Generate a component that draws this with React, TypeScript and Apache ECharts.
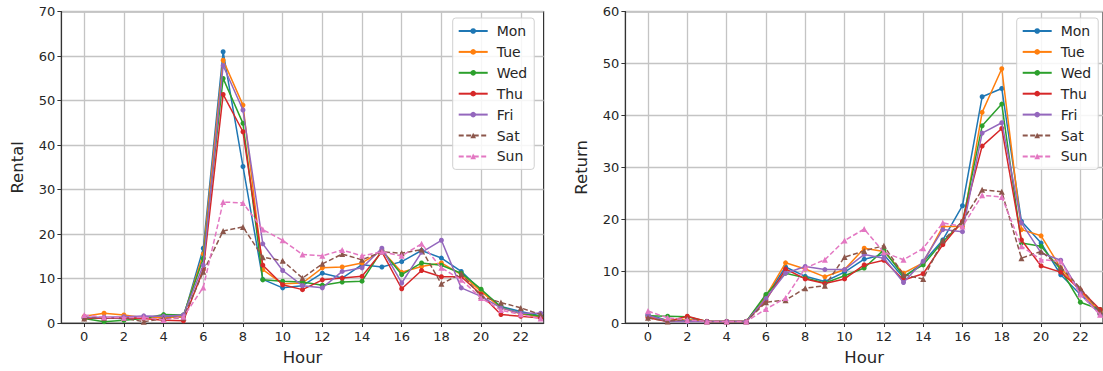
import React, { useEffect, useRef } from "react";
import * as echarts from "echarts";

const hours = [0,1,2,3,4,5,6,7,8,9,10,11,12,13,14,15,16,17,18,19,20,21,22,23];
const days = ["Mon", "Tue", "Wed", "Thu", "Fri", "Sat", "Sun"];
const colors = ["#1f77b4", "#ff7f0e", "#2ca02c", "#d62728", "#9467bd", "#8c564b", "#e377c2"];
const xTicks = [0, 2, 4, 6, 8, 10, 12, 14, 16, 18, 20, 22];

// Rental (left panel)
const rentMon = [1.2, 1.1, 1.0, 1.2, 1.6, 1.3, 16.8, 61.0, 35.2, 9.8, 7.9, 8.4, 11.2, 10.1, 13.1, 12.6, 13.8, 16.3, 14.6, 11.6, 7.3, 3.7, 2.6, 1.6];
const rentTue = [1.5, 2.2, 1.8, 1.2, 1.2, 1.4, 15.5, 59.1, 49.0, 12.0, 8.8, 9.0, 12.4, 12.6, 13.5, 16.3, 11.4, 12.7, 13.5, 10.9, 7.1, 3.4, 2.1, 1.35];
const rentWed = [1.0, 0.3, 0.6, 1.0, 1.9, 1.8, 14.5, 55.0, 44.9, 9.7, 9.4, 9.2, 8.5, 9.2, 9.4, 16.3, 10.9, 13.5, 13.0, 11.2, 7.6, 3.6, 2.2, 1.5];
const rentThu = [1.0, 1.1, 1.2, 1.0, 0.6, 0.5, 12.0, 51.4, 43.0, 13.0, 8.6, 7.5, 9.7, 10.1, 10.5, 16.0, 7.7, 11.8, 10.4, 10.4, 6.4, 1.9, 1.5, 1.1];
const rentFri = [1.3, 1.3, 1.4, 1.6, 1.5, 1.8, 13.0, 57.9, 47.9, 17.8, 11.8, 8.4, 7.9, 11.6, 12.4, 16.8, 9.0, 15.9, 18.6, 7.9, 6.0, 3.4, 2.2, 2.2];
const rentSat = [1.0, 1.2, 1.1, 0.3, 1.0, 1.2, 11.5, 20.7, 21.6, 14.8, 14.0, 10.1, 13.3, 15.5, 14.2, 16.0, 15.7, 16.5, 8.8, 11.1, 6.0, 4.6, 3.4, 1.9];
const rentSun = [1.8, 1.3, 1.2, 1.3, 0.7, 1.4, 8.0, 27.2, 27.0, 21.0, 18.6, 15.4, 15.1, 16.4, 15.1, 16.0, 15.1, 17.8, 12.4, 9.7, 5.6, 2.9, 1.9, 1.0];

// Return (right panel)
const retMon = [1.6, 0.5, 0.5, 0.3, 0.3, 0.3, 5.1, 10.8, 9.0, 8.0, 9.8, 12.3, 13.2, 8.7, 11.7, 16.0, 22.6, 43.6, 45.2, 19.6, 15.4, 9.3, 5.5, 1.9];
const retTue = [1.2, 0.5, 0.7, 0.3, 0.3, 0.3, 5.2, 11.6, 10.4, 8.9, 10.3, 14.4, 13.8, 9.6, 11.6, 18.6, 18.6, 40.6, 49.0, 18.0, 16.8, 10.6, 6.1, 2.1];
const retWed = [1.4, 1.3, 1.2, 0.3, 0.3, 0.3, 5.5, 9.6, 8.7, 7.7, 9.1, 10.6, 14.1, 9.0, 11.2, 15.7, 19.4, 38.0, 42.2, 15.4, 14.8, 10.3, 4.0, 2.6];
const retThu = [1.0, 0.3, 1.3, 0.3, 0.3, 0.3, 4.4, 10.4, 8.5, 7.6, 8.5, 11.2, 12.1, 8.3, 9.5, 15.1, 19.6, 34.1, 37.5, 16.0, 11.0, 9.8, 6.4, 2.6];
const retFri = [1.5, 0.3, 0.3, 0.3, 0.3, 0.3, 4.7, 9.6, 10.9, 10.3, 10.3, 13.2, 12.5, 7.8, 11.9, 18.0, 17.6, 36.6, 38.6, 19.3, 13.5, 12.1, 5.8, 1.6];
const retSat = [1.0, 0.3, 0.8, 0.3, 0.3, 0.3, 4.0, 4.4, 6.7, 7.2, 12.7, 13.9, 14.9, 9.3, 8.5, 15.9, 19.6, 25.7, 25.3, 12.5, 13.8, 10.8, 6.7, 2.2];
const retSun = [2.3, 1.0, 0.6, 0.3, 0.3, 0.3, 2.7, 4.8, 10.6, 12.2, 15.9, 18.1, 13.6, 12.2, 14.4, 19.3, 18.6, 24.6, 24.3, 14.8, 12.2, 11.9, 5.5, 1.6];

const rentSeries = [rentMon, rentTue, rentWed, rentThu, rentFri, rentSat, rentSun];
const retSeries = [retMon, retTue, retWed, retThu, retFri, retSat, retSun];

const FONT = "DejaVu Sans";
const TEXT = "#262626";

function makeSeries(values: number[][], axisIndex: number) {
  return values.map((vals, i) => {
    const weekend = i >= 5;
    return {
      name: days[i],
      type: "line",
      xAxisIndex: axisIndex,
      yAxisIndex: axisIndex,
      data: hours.map((h, k) => [h, vals[k]]),
      symbol: weekend ? "triangle" : "circle",
      symbolSize: weekend ? 6 : 5,
      showSymbol: true,
      color: colors[i],
      lineStyle: { width: 1.5, color: colors[i], type: weekend ? [5, 2.5] : "solid" },
      itemStyle: { color: colors[i] },
      emphasis: { disabled: true },
      z: 2 + i,
    };
  });
}

function xAxis(gridIndex: number) {
  return {
    type: "value",
    gridIndex,
    min: -1.15,
    max: 23.15,
    name: "Hour",
    nameLocation: "middle",
    nameGap: 26,
    nameTextStyle: { fontFamily: FONT, fontSize: 16.5, color: TEXT },
    axisLine: { show: true, onZero: false, lineStyle: { color: "#333", width: 1.2 } },
    axisTick: { show: true, length: 4, customValues: xTicks, lineStyle: { color: "#333", width: 1 } },
    axisLabel: { customValues: xTicks, fontFamily: FONT, fontSize: 13, color: TEXT, margin: 7 },
    splitLine: { show: true, lineStyle: { color: "#c4c4c4", width: 1.3 } },
  };
}

function yAxis(gridIndex: number, max: number, name: string) {
  return {
    type: "value",
    gridIndex,
    min: 0,
    max,
    interval: 10,
    name,
    nameLocation: "middle",
    nameGap: 35,
    nameTextStyle: { fontFamily: FONT, fontSize: 16.5, color: TEXT },
    axisLine: { show: true, onZero: false, lineStyle: { color: "#333", width: 1.2 } },
    axisTick: { show: true, length: 4, lineStyle: { color: "#333", width: 1 } },
    axisLabel: { fontFamily: FONT, fontSize: 13, color: TEXT, margin: 6 },
    splitLine: { show: true, lineStyle: { color: "#c4c4c4", width: 1.3 } },
  };
}

function legend(left: number) {
  return {
    orient: "vertical",
    left,
    top: 18,
    data: days,
    itemWidth: 29,
    itemHeight: 7,
    itemGap: 6.9,
    padding: [6, 7, 6, 5],
    backgroundColor: "rgba(255,255,255,0.85)",
    borderColor: "#d0d0d0",
    borderWidth: 1,
    borderRadius: 3,
    selectedMode: false,
    textStyle: { fontFamily: FONT, fontSize: 14, color: TEXT, lineHeight: 14, padding: [0, 0, 0, 4] },
  };
}

export default function App() {
  const ref = useRef<HTMLDivElement>(null);
  useEffect(() => {
    if (!ref.current) return;
    const chart = echarts.init(ref.current, undefined, { renderer: "svg" });
    chart.setOption({
      animation: false,
      backgroundColor: "#ffffff",
      grid: [
        { left: 61.4, top: 11.7, width: 482.2, height: 311.6, show: true, borderColor: "#333", borderWidth: 1.2, backgroundColor: "transparent", containLabel: false },
        { left: 625.4, top: 11.7, width: 482.3, height: 311.6, show: true, borderColor: "#333", borderWidth: 1.2, backgroundColor: "transparent", containLabel: false },
      ],
      xAxis: [xAxis(0), xAxis(1)],
      yAxis: [yAxis(0, 70, "Rental"), yAxis(1, 60, "Return")],
      legend: [legend(452.7), legend(1016.7)],
      series: [...makeSeries(rentSeries, 0), ...makeSeries(retSeries, 1)],
    });
    return () => chart.dispose();
  }, []);
  return (
    <div
      ref={ref}
      style={{ position: "fixed", left: 0, top: 0, width: 1103, height: 371, background: "#fff" }}
    />
  );
}
